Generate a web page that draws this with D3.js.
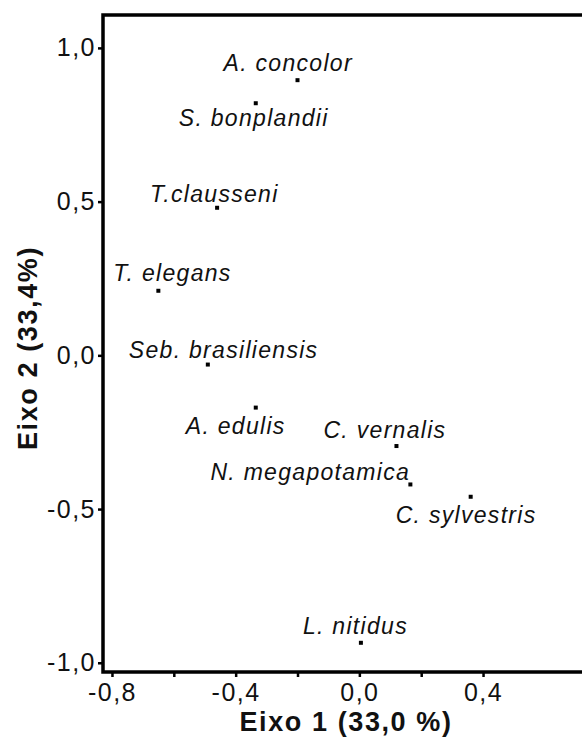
<!DOCTYPE html>
<html>
<head>
<meta charset="utf-8">
<script src="https://cdn.jsdelivr.net/npm/d3@7"></script>
<style>
    html, body { margin: 0; padding: 0; background: #fff; }
    svg { display: block; }
</style>
</head>
<body>
<svg id="chart" width="582" height="744"></svg>
<script>
// species scores on the two ordination axes
const species = ['A. concolor', 'S. bonplandii', 'T.clausseni', 'T. elegans', 'Seb. brasiliensis',
    'A. edulis', 'C. vernalis', 'N. megapotamica', 'C. sylvestris', 'L. nitidus'];
const eixo1 = [-0.20, -0.335, -0.46, -0.65, -0.49, -0.335, 0.12, 0.165, 0.36, 0.005];
const eixo2 = [0.895, 0.82, 0.48, 0.21, -0.03, -0.17, -0.295, -0.42, -0.46, -0.935];

const xTicks = [-0.8, -0.6, -0.4, -0.2, 0.0, 0.2, 0.4];
const xTickLabels = ['-0,8', '', '-0,4', '', '0,0', '', '0,4'];
const yTicks = [-1.0, -0.5, 0.0, 0.5, 1.0];
const yTickLabels = ['-1,0', '-0,5', '0,0', '0,5', '1,0'];

const xTitle = 'Eixo 1 (33,0 %)';
const yTitle = 'Eixo 2 (33,4%)';

// where each name sits relative to its point (px)
const labelOffsets = [[-74, -9], [-77, 23], [-67, -6], [-45, -10], [-79, -7],
    [-70, 26], [-73, -8], [-200, -4], [-75, 26], [-58, -9]];

const svg = d3.select('#chart');
const plotLeft = 103, plotRight = 600, plotTop = 15, plotBottom = 672;

const x = d3.scaleLinear().domain([-0.829, 0.72]).range([plotLeft, 582]);
const y = d3.scaleLinear().domain([-1.03, 1.107]).range([plotBottom, plotTop]);

const font = '"Liberation Sans", Arial, sans-serif';

// x axis ticks
const xAxis = d3.axisBottom(x)
    .tickValues(xTicks)
    .tickSize(5)
    .tickPadding(6)
    .tickFormat((d, i) => xTickLabels[i]);
const gx = svg.append('g')
    .attr('transform', `translate(0,${plotBottom})`)
    .call(xAxis);
gx.select('.domain').remove();
gx.selectAll('line').attr('stroke', '#000').attr('stroke-width', 2.5);
gx.selectAll('text')
    .attr('font-family', font)
    .attr('font-size', 25)
    .attr('letter-spacing', 1.5)
    .attr('fill', '#111');

// y axis ticks
const yAxis = d3.axisLeft(y)
    .tickValues(yTicks)
    .tickSize(5)
    .tickPadding(2)
    .tickFormat((d, i) => yTickLabels[i]);
const gy = svg.append('g')
    .attr('transform', `translate(${plotLeft},0)`)
    .call(yAxis);
gy.select('.domain').remove();
gy.selectAll('line').attr('stroke', '#000').attr('stroke-width', 2.5);
gy.selectAll('text')
    .attr('font-family', font)
    .attr('font-size', 25)
    .attr('letter-spacing', 1.5)
    .attr('fill', '#111');

// frame
svg.append('rect')
    .attr('x', plotLeft)
    .attr('y', plotTop)
    .attr('width', plotRight - plotLeft)
    .attr('height', plotBottom - plotTop)
    .attr('fill', 'none')
    .attr('stroke', '#000')
    .attr('stroke-width', 3.5);

// points
const idx = d3.range(species.length);
svg.append('g')
    .selectAll('rect')
    .data(idx)
    .join('rect')
    .attr('x', (i) => x(eixo1[i]) - 2)
    .attr('y', (i) => y(eixo2[i]) - 2)
    .attr('width', 4)
    .attr('height', 4)
    .attr('fill', '#000');

// species names
svg.append('g')
    .selectAll('text')
    .data(idx)
    .join('text')
    .attr('x', (i) => x(eixo1[i]) + labelOffsets[i][0])
    .attr('y', (i) => y(eixo2[i]) + labelOffsets[i][1])
    .attr('font-family', font)
    .attr('font-style', 'italic')
    .attr('font-size', 23)
    .attr('letter-spacing', 1.3)
    .attr('fill', '#111')
    .text((i) => species[i]);

// axis titles
svg.append('text')
    .attr('x', 346)
    .attr('y', 731)
    .attr('text-anchor', 'middle')
    .attr('font-family', font)
    .attr('font-weight', 'bold')
    .attr('font-size', 27)
    .attr('letter-spacing', 1.6)
    .attr('fill', '#111')
    .text(xTitle);

svg.append('text')
    .attr('transform', 'translate(37,348) rotate(-90)')
    .attr('text-anchor', 'middle')
    .attr('font-family', font)
    .attr('font-weight', 'bold')
    .attr('font-size', 27)
    .attr('letter-spacing', 1.6)
    .attr('fill', '#111')
    .text(yTitle);
</script>
</body>
</html>
